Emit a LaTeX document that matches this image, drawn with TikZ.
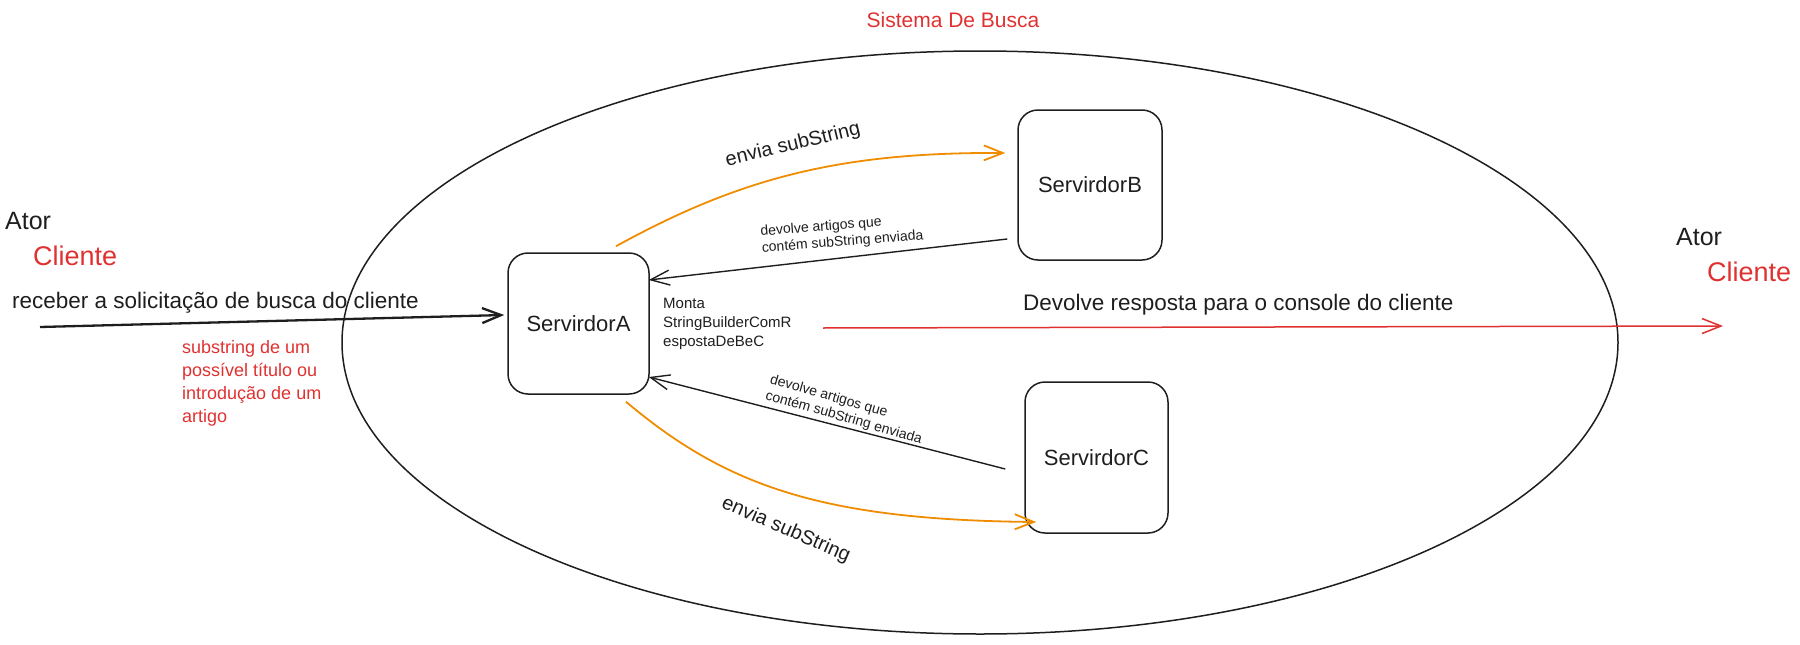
\documentclass[tikz,border=0pt]{standalone}
\usepackage{fontspec}
\setmainfont{Liberation Sans}
\usetikzlibrary{arrows.meta,shapes.geometric}
\definecolor{exred}{HTML}{E03131}
\definecolor{exorange}{HTML}{F08C00}
\definecolor{exblack}{HTML}{1E1E1E}
\newcommand\myfs[2]{\fontsize{#1}{#2}\selectfont}
\tikzset{
  server/.style={draw=exblack, line width=1.5pt, rounded corners=20pt, inner sep=0pt,
    font=\myfs{22}{26}, text=exblack},
  sysellipse/.style={draw=exblack, line width=1.5pt, ellipse, inner sep=0pt},
  conn/.style={draw=exblack, line width=1.4pt, -{Straight Barb[length=19pt,width=15pt]}},
  orangeconn/.style={conn, draw=exorange, line width=1.8pt},
  redconn/.style={conn, draw=exred, line width=1.5pt},
  lbl/.style={inner sep=0pt, text=exblack},
  redlbl/.style={inner sep=0pt, text=exred},
}
\begin{document}
\begin{tikzpicture}[x=1pt,y=-1pt]
\useasboundingbox (0,0) rectangle (1800,645);

% system boundary
\node[sysellipse, minimum width=1276pt, minimum height=583pt] (sys) at (980,342.5) {};
\node[redlbl, font=\myfs{21}{25}] (systitle) at (953,20) {Sistema De Busca};

% servers
\node[server, minimum width=141pt, minimum height=141pt] (A) at (578.5,323.5) {ServirdorA};
\node[server, minimum width=144pt, minimum height=150pt] (B) at (1090,185) {ServirdorB};
\node[server, minimum width=143pt, minimum height=151pt] (C) at (1096.5,457.5) {ServirdorC};

% actors
\node[lbl, anchor=west, font=\myfs{25}{30}] (atorL) at (5,221) {Ator};
\node[redlbl, anchor=west, font=\myfs{27}{32}] (clienteL) at (33,256) {Cliente};
\node[lbl, anchor=west, font=\myfs{25}{30}] (atorR) at (1676,237) {Ator};
\node[redlbl, anchor=west, font=\myfs{27}{32}] (clienteR) at (1707,271.5) {Cliente};

% free ends
\coordinate (inStart) at (40,327);
\coordinate (outStart) at (823,328);
\coordinate (outEnd) at (1723,326);

% connectors
\draw[conn, line width=2.3pt] (inStart) -- ([shift={(-3,-8.5)}]A.west);
\draw[orangeconn] ([shift={(37.5,-6)}]A.north) .. controls (740,178) and (840,152) .. ([shift={(-12,-32)}]B.west);
\draw[conn] ([shift={(-10,54)}]B.west) -- ([shift={(-1,-43.5)}]A.east);
\draw[conn] ([shift={(-19,11.5)}]C.west) -- ([shift={(-1,53.5)}]A.east);
\draw[orangeconn] ([shift={(47.5,7)}]A.south) .. controls (725,485) and (820,520) .. ([shift={(12,64.5)}]C.west);
\draw[redconn] (outStart) -- (outEnd);

% labels
\node[lbl, anchor=west, font=\myfs{22.5}{27}] (recv) at (12,303) {receber a solicitação de busca do cliente};
\node[redlbl, anchor=north west, align=left, font=\myfs{18}{23}] (subnote) at (182,340)
  {substring de um\\possível título ou\\introdução de um\\artigo};
\node[lbl, anchor=north west, align=left, font=\myfs{15}{19}] (monta) at (663,298)
  {Monta\\StringBuilderComR\\espostaDeBeC};
\node[lbl, anchor=west, font=\myfs{22.5}{27}] (devolve) at (1023,305) {Devolve resposta para o console do cliente};
\node[lbl, rotate=13.5, font=\myfs{20}{24}] (enviaB) at (793,145) {envia subString};
\node[lbl, rotate=-23.5, font=\myfs{20}{24}] (enviaC) at (786,530) {envia subString};
\node[lbl, rotate=4.5, align=left, font=\myfs{14}{16.5}] (devB) at (842,234)
  {devolve artigos que\\contém subString enviada};
\node[lbl, rotate=-16, align=left, font=\myfs{14}{16.5}] (devC) at (846,410)
  {devolve artigos que\\contém subString enviada};
\end{tikzpicture}
\end{document}
